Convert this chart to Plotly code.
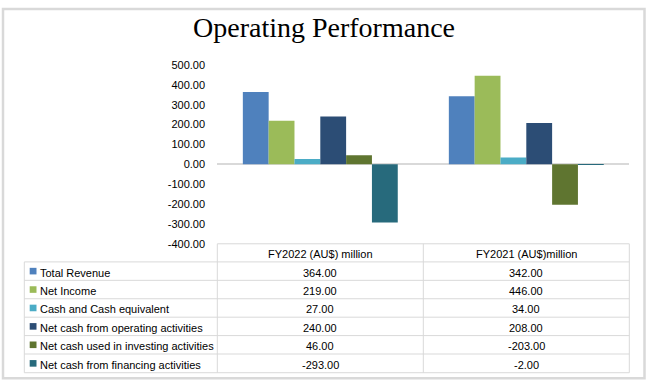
import plotly.graph_objects as go

# ---------------- data ----------------
categories = ["FY2022 (AU$) million", "FY2021 (AU$)million"]
series_names = [
    "Total Revenue",
    "Net Income",
    "Cash and Cash equivalent",
    "Net cash from operating activities",
    "Net cash used in investing activities",
    "Net cash from financing activities",
]
total_revenue = [364.00, 342.00]
net_income = [219.00, 446.00]
cash_equiv = [27.00, 34.00]
net_cash_operating = [240.00, 208.00]
net_cash_investing = [46.00, -203.00]
net_cash_financing = [-293.00, -2.00]
y_ticks = [-400, -300, -200, -100, 0, 100, 200, 300, 400, 500]

series_values = [total_revenue, net_income, cash_equiv,
                 net_cash_operating, net_cash_investing, net_cash_financing]
colors = ["#4F81BD", "#9BBB59", "#4BACC6", "#2C4D75", "#5F7530", "#276A7C"]

W, H = 649, 392
def px(x):
    return x / W
def py(y):
    return 1 - y / H

PL, PR, PT, PB = 217.3, 629.3, 60.8, 245.3  # plot area in pixels
GRID = "#D9D9D9"
FONT = "Liberation Sans, Arial, sans-serif"
TXT = "#000000"

fig = go.Figure()
for name, vals, col in zip(series_names, series_values, colors):
    fig.add_trace(go.Bar(x=categories, y=vals, name=name, marker_color=col,
                         marker_line_width=0))

shapes = []
annotations = []

# outer border
shapes.append(dict(type="rect", xref="paper", yref="paper",
                   x0=px(3), x1=px(644.5), y0=py(3), y1=py(384),
                   line=dict(color=GRID, width=2.5)))

# title
annotations.append(dict(text="Operating Performance", xref="paper", yref="paper",
                        x=px(323.5), y=py(22.5), xanchor="center", yanchor="middle",
                        showarrow=False,
                        font=dict(family="Liberation Serif, Times New Roman, serif",
                                  size=28, color=TXT)))

# data table
row_lines = [264, 283, 302, 321, 340, 359, 378.3]
col_div = (PL + PR) / 2
def hline(y, x0, x1):
    shapes.append(dict(type="line", xref="paper", yref="paper",
                       x0=px(x0), x1=px(x1), y0=py(y), y1=py(y),
                       line=dict(color=GRID, width=1)))
def vline(x, y0, y1):
    shapes.append(dict(type="line", xref="paper", yref="paper",
                       x0=px(x), x1=px(x), y0=py(y0), y1=py(y1),
                       line=dict(color=GRID, width=1)))

hline(PB, PL, PR)
for y in row_lines:
    hline(y, 24.3, PR)
vline(24.3, row_lines[0], row_lines[-1])
vline(PL, PB, row_lines[-1])
vline(col_div, PB, row_lines[-1])
vline(PR, PB, row_lines[-1])

TDY = 1.5  # text baseline nudge
col_centers = [(PL + col_div) / 2, (col_div + PR) / 2]
for c, cat in enumerate(categories):
    annotations.append(dict(text=cat, xref="paper", yref="paper",
                            x=px(col_centers[c]), y=py((PB + row_lines[0]) / 2 + TDY),
                            xanchor="center", yanchor="middle", showarrow=False,
                            font=dict(family=FONT, size=11, color=TXT)))

for i, (name, vals, col) in enumerate(zip(series_names, series_values, colors)):
    yc = (row_lines[i] + row_lines[i + 1]) / 2
    shapes.append(dict(type="rect", xref="paper", yref="paper",
                       x0=px(29.7), x1=px(36.5), y0=py(yc - 3.4), y1=py(yc + 3.4),
                       fillcolor=col, line=dict(width=0)))
    annotations.append(dict(text=name, xref="paper", yref="paper",
                            x=px(38.3), y=py(yc + TDY), xanchor="left", yanchor="middle",
                            showarrow=False,
                            font=dict(family=FONT, size=11, color=TXT)))
    for c, v in enumerate(vals):
        annotations.append(dict(text=f"{v:.2f}", xref="paper", yref="paper",
                                x=px(col_centers[c]), y=py(yc + TDY),
                                xanchor="center", yanchor="middle", showarrow=False,
                                font=dict(family=FONT, size=11, color=TXT)))

fig.update_layout(
    width=W, height=H,
    margin=dict(l=0, r=0, t=0, b=0),
    paper_bgcolor="white", plot_bgcolor="white",
    barmode="group", bargap=0.248, bargroupgap=0,
    showlegend=False,
    shapes=shapes, annotations=annotations,
    xaxis=dict(domain=[px(PL), px(PR)], showticklabels=False, showgrid=False,
               zeroline=False, showline=False, ticks=""),
    yaxis=dict(domain=[py(PB), py(PT)], range=[-400, 500],
               tickvals=y_ticks, ticktext=[f"{v:.2f}" for v in y_ticks],
               showgrid=False, zeroline=True, zerolinecolor=GRID, zerolinewidth=1.5,
               showline=False, ticks="outside", ticklen=9,
               tickcolor="rgba(0,0,0,0)",
               tickfont=dict(family=FONT, size=11, color=TXT)),
)

fig.write_html("out.html",
               config={"displayModeBar": False},
               post_script="document.body.style.margin='0';document.body.style.padding='0';document.documentElement.style.overflow='hidden';")
